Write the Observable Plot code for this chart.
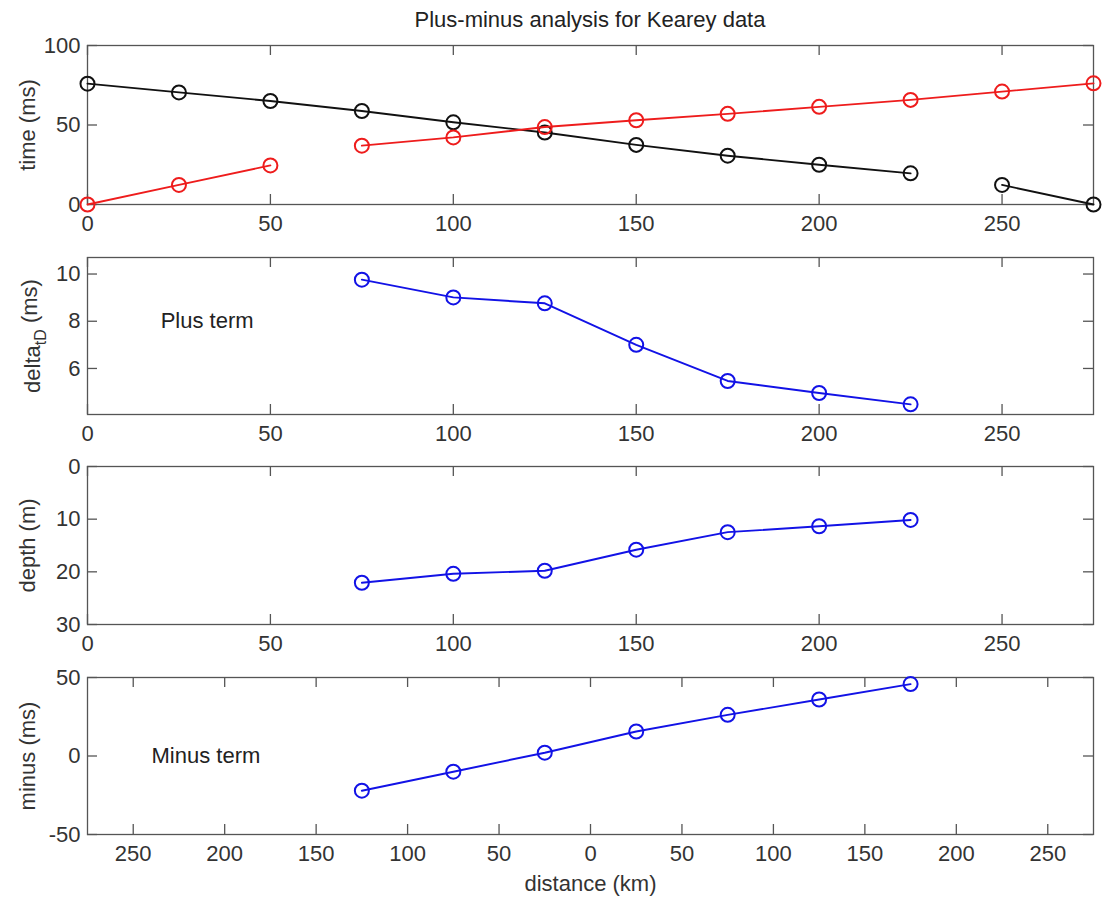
<!DOCTYPE html>
<html>
<head>
<meta charset="utf-8">
<script src="https://cdn.jsdelivr.net/npm/d3@7"></script>
<script src="https://cdn.jsdelivr.net/npm/@observablehq/plot@0.6"></script>
<style>
  body { margin: 0; background: #fff; }
  #fig { position: relative; width: 1102px; height: 899px; font-family: "Liberation Sans", Arial, Helvetica, sans-serif; background: #fff; }
  #fig svg { position: absolute; left: 0; }
  #title { position: absolute; top: 8px; left: 87px; width: 1006px; text-align: center; font-size: 22px; color: #222; line-height: 24px; }
</style>
</head>
<body>
<div id="fig"><div id="title"></div></div>
<script>
// ---- data ----
const chartTitle = "Plus-minus analysis for Kearey data";
const stations = [0, 25, 50, 75, 100, 125, 150, 175, 200, 225, 250, 275];
const forwardTimes = [0, 12.3, 24.6, 37.0, 42.2, 48.7, 53.0, 57.0, 61.4, 65.8, 71.0, 76.2];
const forwardSegment = [1, 1, 1, 2, 2, 2, 2, 2, 2, 2, 2, 2];
const reverseTimes = [76.0, 70.5, 65.1, 58.8, 51.7, 45.3, 37.5, 30.7, 25.0, 19.6, 12.3, 0];
const reverseSegment = [1, 1, 1, 1, 1, 1, 1, 1, 1, 1, 2, 2];
const plusStations = [75, 100, 125, 150, 175, 200, 225];
const plusTerm = [9.76, 9.01, 8.76, 7.0, 5.47, 4.96, 4.48];
const depths = [22.07, 20.37, 19.8, 15.8, 12.47, 11.35, 10.15];
const minusStations = [-125, -75, -25, 25, 75, 125, 175];
const minusTerm = [-22.1, -10.0, 2.1, 15.6, 26.2, 36.0, 45.8];
const distanceTicks = [0, 50, 100, 150, 200, 250];
const minusDistanceTicks = [-250, -200, -150, -100, -50, 0, 50, 100, 150, 200, 250];
const timeTicks = [0, 50, 100];
const plusTicks = [6, 8, 10];
const depthTicks = [0, 10, 20, 30];
const minusTicks = [-50, 0, 50];
const yLabels = ["time (ms)", "deltatD (ms)", "depth (m)", "minus (ms)"];
const xLabel = "distance (km)";
const plusNote = "Plus term";
const minusNote = "Minus term";

// ---- tables ----
const forward = stations.map((x, i) => ({x, y: forwardTimes[i], seg: forwardSegment[i]}));
const reverse = stations.map((x, i) => ({x, y: reverseTimes[i], seg: reverseSegment[i]}));
const plus = plusStations.map((x, i) => ({x, y: plusTerm[i]}));
const depth = plusStations.map((x, i) => ({x, y: depths[i]}));
const minus = minusStations.map((x, i) => ({x, y: minusTerm[i]}));

const FONT = '"Liberation Sans", Arial, Helvetica, sans-serif';
const W = 1102, ML = 87, MR = 9, FW = W - ML - MR, TL = 10, AX = "#555";
const RED = "#ee1c1c", BLUE = "#1212e6", BLACK = "#111";

function series(data, color, z) {
  return [
    Plot.line(data, {x: "x", y: "y", z, stroke: color, strokeWidth: 1.9}),
    Plot.dot(data, {x: "x", y: "y", r: 7, stroke: color, strokeWidth: 2, fill: "none"})
  ];
}

function panel({top, mTop, frameH, mBottom, xDomain, xTicks, xFormat = d => String(d), yDomain, yReverse, yTicks, yLabel, yLabelDx = -60, marks, bottomLabel}) {
  const svg = Plot.plot({
    width: W, height: mTop + frameH + mBottom,
    marginLeft: ML, marginRight: MR, marginTop: mTop, marginBottom: mBottom,
    style: {fontFamily: FONT, fontSize: "22px", color: "#333", background: "transparent", overflow: "visible"},
    x: {domain: xDomain, ticks: xTicks, tickFormat: xFormat, tickSize: 0, tickPadding: 11, label: null},
    y: {domain: yDomain, reverse: !!yReverse, ticks: yTicks, tickFormat: d => String(d), tickSize: 0, tickPadding: 7, label: null},
    marks: [
      Plot.frame({stroke: AX, strokeWidth: 1.3}),
      Plot.tickX(xTicks, {x: d => d, insetTop: frameH - TL, stroke: AX, strokeWidth: 1.3}),
      Plot.tickX(xTicks, {x: d => d, insetBottom: frameH - TL, stroke: AX, strokeWidth: 1.3}),
      Plot.tickY(yTicks, {y: d => d, insetRight: FW - TL, stroke: AX, strokeWidth: 1.3}),
      Plot.tickY(yTicks, {y: d => d, insetLeft: FW - TL, stroke: AX, strokeWidth: 1.3}),
      Plot.text([yLabel], {text: d => d, frameAnchor: "left", dx: yLabelDx, rotate: -90, textAnchor: "middle", lineAnchor: "middle", fill: "#333", fontSize: 22}),
      bottomLabel ? Plot.text([bottomLabel], {text: d => d, frameAnchor: "bottom", dy: 49, textAnchor: "middle", lineAnchor: "middle", fill: "#333", fontSize: 22}) : null,
      ...marks
    ]
  });
  svg.style.top = top + "px";
  return svg;
}

document.getElementById("title").textContent = chartTitle;
const fig = document.getElementById("fig");

fig.appendChild(panel({
  top: 30, mTop: 15, frameH: 159, mBottom: 36,
  xDomain: [0, 275], xTicks: distanceTicks, yDomain: [0, 100], yTicks: timeTicks, yLabel: yLabels[0],
  marks: [...series(reverse, BLACK, "seg"), ...series(forward, RED, "seg")]
}));

const p2 = panel({
  top: 240, mTop: 17, frameH: 157, mBottom: 38,
  xDomain: [0, 275], xTicks: distanceTicks, yDomain: [4.05, 10.7], yTicks: plusTicks, yLabel: yLabels[1], yLabelDx: -55,
  marks: [
    Plot.text([plusNote], {text: d => d, x: [20], y: [8], textAnchor: "start", lineAnchor: "middle", fill: "#222", fontSize: 22}),
    ...series(plus, BLUE)
  ]
});
fig.appendChild(p2);
// subscript in the delta label
d3.select(p2).selectAll("text").filter(function() { return this.textContent === yLabels[1]; }).each(function() {
  const t = d3.select(this);
  t.selectAll("*").remove();
  t.text(null);
  t.append("tspan").text("delta");
  t.append("tspan").attr("dy", "0.38em").attr("font-size", "16px").text("tD");
  t.append("tspan").attr("dy", "-0.38em").text(" (ms)");
});

fig.appendChild(panel({
  top: 452, mTop: 14, frameH: 158, mBottom: 38,
  xDomain: [0, 275], xTicks: distanceTicks, yDomain: [0, 30], yReverse: true, yTicks: depthTicks, yLabel: yLabels[2],
  marks: [...series(depth, BLUE)]
}));

fig.appendChild(panel({
  top: 662, mTop: 15, frameH: 157, mBottom: 65,
  xDomain: [-275, 275], xTicks: minusDistanceTicks, xFormat: d => String(Math.abs(d)),
  yDomain: [-50, 50], yTicks: minusTicks, yLabel: yLabels[3], bottomLabel: xLabel,
  marks: [
    Plot.text([minusNote], {text: d => d, x: [-240], y: [0], textAnchor: "start", lineAnchor: "middle", fill: "#222", fontSize: 22}),
    ...series(minus, BLUE)
  ]
}));
</script>
</body>
</html>
